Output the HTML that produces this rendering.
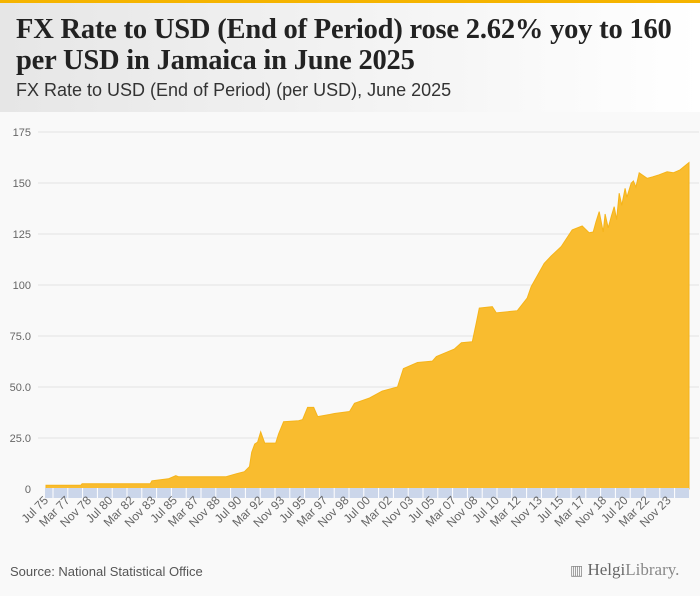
<!DOCTYPE html>
<html><head><meta charset="utf-8"><style>
body{margin:0;width:700px;height:596px;background:#f9f9f9;font-family:"Liberation Sans",sans-serif;overflow:hidden;position:relative}
#hdr{position:absolute;left:0;top:0;width:700px;height:112px;background:linear-gradient(90deg,#e6e6e6,#ffffff)}
#bar{position:absolute;left:0;top:0;width:700px;height:3px;background:#f5b400}
#t1{position:absolute;left:16px;top:14px;font-family:"Liberation Serif",serif;font-weight:bold;font-size:28.5px;line-height:31px;color:#222;letter-spacing:-0.2px}
#t2{position:absolute;left:16px;top:80px;font-size:18px;color:#333}
#src{position:absolute;left:10px;top:564px;font-size:13px;color:#555}
#logo{position:absolute;left:570px;top:560px;font-size:17px;color:#888;font-family:"Liberation Serif",serif}
</style></head><body>
<div id="hdr"></div>
<div id="bar"></div>
<div id="t1">FX Rate to USD (End of Period) rose 2.62% yoy to 160<br>per USD in Jamaica in June 2025</div>
<div id="t2">FX Rate to USD (End of Period) (per USD), June 2025</div>
<svg id="chart" width="700" height="596" style="position:absolute;left:0;top:0"></svg>
<div id="src">Source: National Statistical Office</div>
<div id="logo"><span style="font-size:14px">▥</span> <b style="font-weight:normal;color:#666">Helgi</b>Library.</div>
<script>
const years=[1975.5,1978.2,1978.3,1983.6,1983.72,1985.0,1985.58,1985.8,1989.45,1990.3,1990.9,1991.3,1991.47,1991.7,1991.93,1992.17,1992.48,1993.33,1993.56,1993.95,1995.11,1995.42,1995.81,1996.28,1996.59,1997.52,1997.9,1999.07,1999.45,2000.62,2001.6,2002.79,2003.25,2004.34,2005.5,2005.81,2007.2,2007.75,2008.6,2008.91,2009.14,2010.15,2010.46,2012.09,2012.86,2013.17,2014.18,2014.72,2015.5,2016.35,2017.13,2017.67,2017.98,2018.2,2018.45,2018.76,2018.91,2019.15,2019.4,2019.61,2019.8,2020.0,2020.2,2020.46,2020.6,2020.93,2021.1,2021.3,2021.55,2022.17,2022.6,2023.1,2023.72,2024.2,2024.72,2025.42];
const values=[1.8,1.8,2.6,2.6,4.0,5.0,6.5,6.0,6.0,7.5,8.5,11,18,22,23,28,22.5,22.5,27,33,33.5,34,40,40,35.5,36.5,37,38,42,44.6,48,50,59,62,62.7,64.9,68.6,71.7,72.2,81.4,88.7,89.4,86.3,87.4,93.6,99.2,110.6,114.2,118.8,127,128.9,125.6,126,131,136,126,134.8,128,134,138.4,132,145,139,147.4,143,149.9,151,148,155,152.3,153,154,155.5,155,156.4,160];
const yTicks=[0,25,50,75,100,125,150,175];
const yTickLabels=["0","25.0","50.0","75.0","100","125","150","175"];
const xLabels=["Jul 75","Mar 77","Nov 78","Jul 80","Mar 82","Nov 83","Jul 85","Mar 87","Nov 88","Jul 90","Mar 92","Nov 93","Jul 95","Mar 97","Nov 98","Jul 00","Mar 02","Nov 03","Jul 05","Mar 07","Nov 08","Jul 10","Mar 12","Nov 13","Jul 15","Mar 17","Nov 18","Jul 20","Mar 22","Nov 23"];
const X0=46,X1=689,T0=1975.5,T1=2025.42,Y0=489,YTOP=132,VMAX=175;
const xs=t=>X0+(t-T0)/(T1-T0)*(X1-X0);
const ys=v=>Y0-v/VMAX*(Y0-YTOP);
const svg=document.getElementById('chart');const NS='http://www.w3.org/2000/svg';
function mk(tag,attrs){const e=document.createElementNS(NS,tag);for(const k in attrs)e.setAttribute(k,attrs[k]);svg.appendChild(e);return e;}
yTicks.forEach((v,i)=>{
 if(v>0){const g=mk('line',{x1:X0-8,x2:X1+10,y1:ys(v),y2:ys(v),stroke:'#e2e2e2','stroke-width':1});
 
 }
 const t=mk('text',{x:31,y:ys(v)+4,'text-anchor':'end','font-size':'11',fill:'#666'});t.textContent=yTickLabels[i];
 
 
});
let d='M'+xs(years[0])+','+Y0;
years.forEach((t,i)=>{d+=' L'+xs(t).toFixed(1)+','+ys(values[i]).toFixed(1);});
d+=' L'+xs(years[years.length-1])+','+Y0+' Z';
const area=mk('path',{d:d,fill:'#f9bc2f',stroke:'#f5b41a','stroke-width':1});


const band=mk('rect',{x:X0-1,y:488,width:X1-X0+1,height:10,fill:'#cbd6ea'});


for(let x=X0+7;x<X1;x+=14.8){const l=mk('line',{x1:x,x2:x,y1:488,y2:498,stroke:'#fff','stroke-width':1});
 
 }
xLabels.forEach((s,i)=>{const t0=T0+i*20/12;const x=xs(t0)+3,y=501;
 const t=mk('text',{x:x,y:y,'text-anchor':'end','font-size':'12',fill:'#666',transform:'rotate(-45 '+x+' '+y+')'});t.textContent=s;
 
 });
</script>
</body></html>
